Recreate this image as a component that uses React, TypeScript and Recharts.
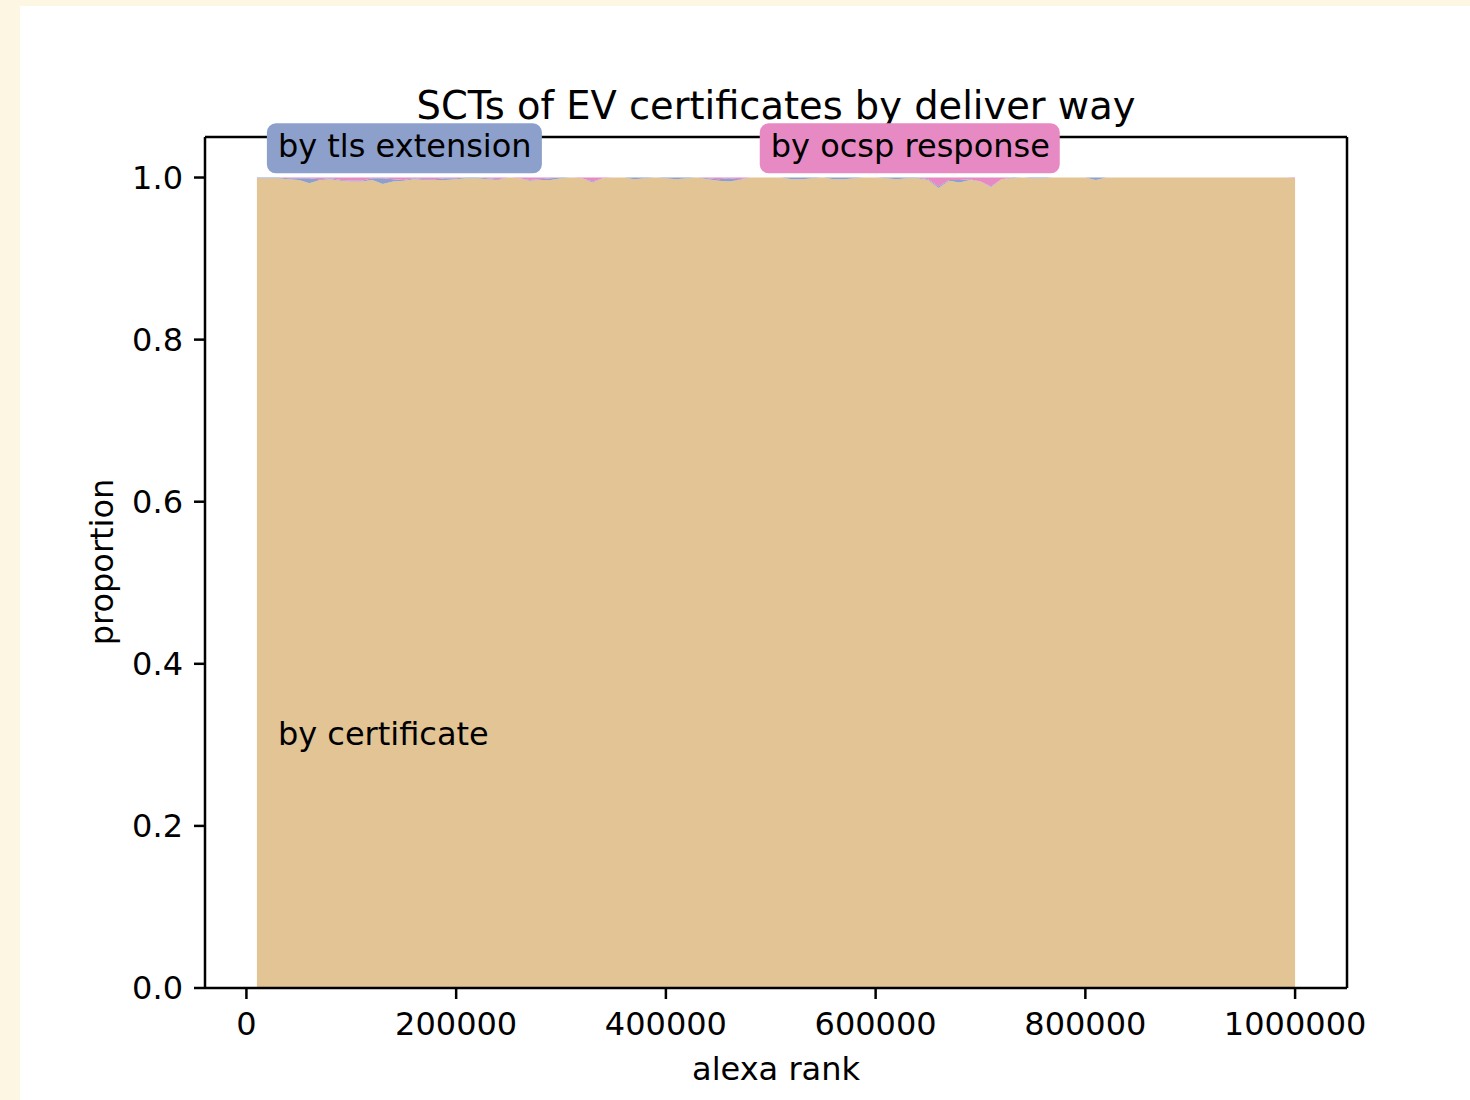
import { AreaChart, Area, XAxis, YAxis, ReferenceLine, ReferenceDot } from 'recharts';

// alexa rank buckets (every 10000 up to 1M)
const ranks = [
  10000, 20000, 30000, 40000, 50000, 60000, 70000, 80000, 90000, 100000,
  110000, 120000, 130000, 140000, 150000, 160000, 170000, 180000, 190000, 200000,
  210000, 220000, 230000, 240000, 250000, 260000, 270000, 280000, 290000, 300000,
  310000, 320000, 330000, 340000, 350000, 360000, 370000, 380000, 390000, 400000,
  410000, 420000, 430000, 440000, 450000, 460000, 470000, 480000, 490000, 500000,
  510000, 520000, 530000, 540000, 550000, 560000, 570000, 580000, 590000, 600000,
  610000, 620000, 630000, 640000, 650000, 660000, 670000, 680000, 690000, 700000,
  710000, 720000, 730000, 740000, 750000, 760000, 770000, 780000, 790000, 800000,
  810000, 820000, 830000, 840000, 850000, 860000, 870000, 880000, 890000, 900000,
  910000, 920000, 930000, 940000, 950000, 960000, 970000, 980000, 990000, 1000000,
];

const byCertificate = [
  0.999, 0.999, 0.999, 0.998, 0.997, 0.993, 0.997, 0.998, 0.996, 0.995,
  0.995, 0.997, 0.992, 0.995, 0.996, 0.998, 0.997, 0.997, 0.997, 0.998,
  0.999, 0.999, 0.998, 0.997, 1.0, 0.999, 0.996, 0.997, 0.997, 0.999,
  1.0, 0.999, 0.994, 0.999, 1.0, 1.0, 0.998, 0.999, 1.0, 0.999,
  0.998, 0.999, 1.0, 0.998, 0.996, 0.995, 0.997, 1.0, 1.0, 1.0,
  1.0, 0.998, 0.998, 0.999, 1.0, 0.998, 0.998, 0.999, 1.0, 1.0,
  0.999, 0.998, 0.999, 0.999, 0.997, 0.987, 0.996, 0.994, 0.997, 0.995,
  0.988, 0.998, 0.999, 1.0, 0.999, 0.999, 1.0, 1.0, 1.0, 1.0,
  0.997, 1.0, 1.0, 1.0, 1.0, 1.0, 1.0, 1.0, 1.0, 1.0,
  1.0, 1.0, 1.0, 1.0, 1.0, 1.0, 1.0, 1.0, 1.0, 0.999,
];

const byTlsExtension = [
  0.001, 0.001, 0.001, 0.001, 0.002, 0.006, 0.001, 0.001, 0.001, 0.001,
  0.001, 0.002, 0.007, 0.003, 0.001, 0.001, 0.001, 0.001, 0.002, 0.001,
  0.001, 0.001, 0.001, 0.001, 0.0, 0.0, 0.001, 0.001, 0.002, 0.001,
  0.0, 0.0, 0.001, 0.0, 0.0, 0.0, 0.002, 0.001, 0.0, 0.001,
  0.002, 0.001, 0.0, 0.001, 0.002, 0.004, 0.001, 0.0, 0.0, 0.0,
  0.0, 0.002, 0.002, 0.001, 0.0, 0.002, 0.002, 0.001, 0.0, 0.0,
  0.001, 0.002, 0.001, 0.001, 0.001, 0.002, 0.001, 0.003, 0.001, 0.0,
  0.001, 0.0, 0.001, 0.0, 0.001, 0.001, 0.0, 0.0, 0.0, 0.0,
  0.003, 0.0, 0.0, 0.0, 0.0, 0.0, 0.0, 0.0, 0.0, 0.0,
  0.0, 0.0, 0.0, 0.0, 0.0, 0.0, 0.0, 0.0, 0.0, 0.0,
];

const byOcspResponse = [
  0.0, 0.0, 0.0, 0.001, 0.001, 0.001, 0.002, 0.001, 0.003, 0.004,
  0.004, 0.001, 0.001, 0.002, 0.003, 0.001, 0.002, 0.002, 0.001, 0.001,
  0.0, 0.0, 0.001, 0.002, 0.0, 0.001, 0.003, 0.002, 0.001, 0.0,
  0.0, 0.001, 0.005, 0.001, 0.0, 0.0, 0.0, 0.0, 0.0, 0.0,
  0.0, 0.0, 0.0, 0.001, 0.002, 0.001, 0.002, 0.0, 0.0, 0.0,
  0.0, 0.0, 0.0, 0.0, 0.0, 0.0, 0.0, 0.0, 0.0, 0.0,
  0.0, 0.0, 0.0, 0.0, 0.002, 0.011, 0.003, 0.003, 0.002, 0.005,
  0.011, 0.002, 0.0, 0.0, 0.0, 0.0, 0.0, 0.0, 0.0, 0.0,
  0.0, 0.0, 0.0, 0.0, 0.0, 0.0, 0.0, 0.0, 0.0, 0.0,
  0.0, 0.0, 0.0, 0.0, 0.0, 0.0, 0.0, 0.0, 0.0, 0.001,
];

const xTicks = [0, 200000, 400000, 600000, 800000, 1000000];
const yTicks = [0, 0.2, 0.4, 0.6, 0.8, 1.0];

const data = ranks.map((rank, i) => ({
  rank,
  cert: byCertificate[i],
  tls: byTlsExtension[i],
  ocsp: byOcspResponse[i],
}));

const FONT = 'DejaVu Sans, sans-serif';
const TAN = '#e3c494';
const BLUE = '#8da0cb';
const PINK = '#e78ac3';

const boxLabel = (text: string, color: string, boxWidth: number) => (props: any) => (
  <g>
    <rect x={props.cx - 11} y={props.cy - 34} width={boxWidth} height={50} rx={9} fill={color} />
    <text x={props.cx} y={props.cy} fontFamily={FONT} fontSize={32} fill="#000">{text}</text>
  </g>
);

const plainLabel = (text: string) => (props: any) => (
  <text x={props.cx} y={props.cy} fontFamily={FONT} fontSize={32} fill="#000">{text}</text>
);

export default function App() {
  return (
    <div style={{ position: 'absolute', left: 0, top: 0, width: 1470, height: 1100, background: '#fdf6e3' }}>
      <div style={{ position: 'absolute', left: 20, top: 6, width: 1450, height: 1094, background: '#fff' }}>
        <AreaChart width={1450} height={1094} data={data} margin={{ top: 131, right: 123, left: 0, bottom: 52 }}>
          <XAxis
            dataKey="rank"
            type="number"
            domain={[-39500, 1049500]}
            allowDataOverflow
            ticks={xTicks}
            height={60}
            tickSize={11}
            tickMargin={13}
            stroke="#000"
            strokeWidth={2.5}
            tick={{ fill: '#000', fontSize: 32, fontFamily: FONT }}
            label={{
              content: ({ viewBox }: any) => (
                <text x={viewBox.x + viewBox.width / 2} y={1074} textAnchor="middle" fontFamily={FONT} fontSize={32} fill="#000">alexa rank</text>
              ),
            }}
          />
          <YAxis
            type="number"
            domain={[0, 1.05]}
            allowDataOverflow
            ticks={yTicks}
            width={185}
            tickSize={11}
            tickMargin={11}
            stroke="#000"
            strokeWidth={2.5}
            tickFormatter={(v: number) => v.toFixed(1)}
            tick={{ fill: '#000', fontSize: 32, fontFamily: FONT }}
            label={{
              content: () => (
                <text x={93} y={556} transform="rotate(-90 93 556)" textAnchor="middle" fontFamily={FONT} fontSize={32} fill="#000">proportion</text>
              ),
            }}
          />
          <Area type="linear" dataKey="cert" stackId="1" fill={TAN} fillOpacity={1} stroke="none" isAnimationActive={false} />
          <Area type="linear" dataKey="tls" stackId="1" fill={BLUE} fillOpacity={1} stroke="none" isAnimationActive={false} />
          <Area type="linear" dataKey="ocsp" stackId="1" fill={PINK} fillOpacity={1} stroke="none" isAnimationActive={false} />
          <ReferenceLine y={1.05} stroke="#000" strokeWidth={2.5} />
          <ReferenceLine x={1049500} stroke="#000" strokeWidth={2.5} />
          <ReferenceDot x={30000} y={1.025} r={0} shape={boxLabel('by tls extension', BLUE, 275)} />
          <ReferenceDot x={500000} y={1.025} r={0} shape={boxLabel('by ocsp response', PINK, 300)} />
          <ReferenceDot x={30000} y={0.3} r={0} shape={plainLabel('by certificate')} />
          <text x={756} y={113} textAnchor="middle" fontFamily={FONT} fontSize={38.4} fill="#000">SCTs of EV certificates by deliver way</text>
        </AreaChart>
      </div>
    </div>
  );
}
